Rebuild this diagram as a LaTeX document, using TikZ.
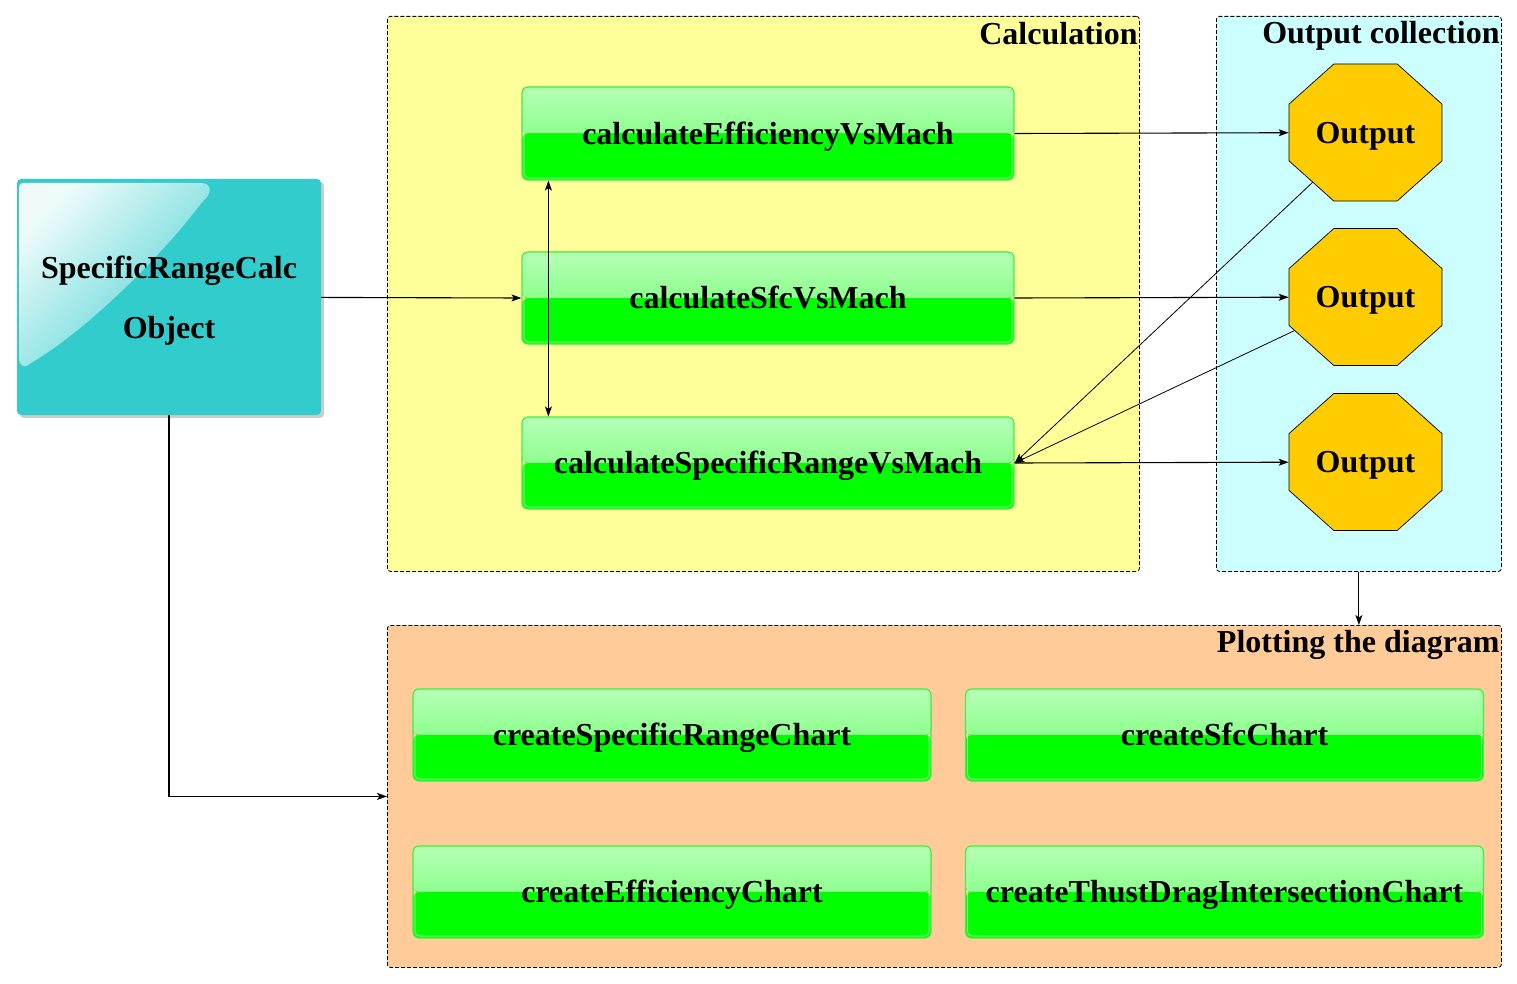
\documentclass[tikz,border=0pt]{standalone}
\usepackage{fontspec}
\setmainfont{Liberation Serif}
\usetikzlibrary{arrows.meta,shapes.geometric,shadows,calc}
\definecolor{calcbg}{HTML}{FFFF99}
\definecolor{outbg}{HTML}{CCFFFF}
\definecolor{plotbg}{HTML}{FFCC99}
\definecolor{tealbox}{HTML}{33CCCC}
\definecolor{octocol}{HTML}{FFCC00}
\definecolor{gtop}{HTML}{B6FFB6}
\definecolor{gmid}{HTML}{66FF66}
\definecolor{gbot}{HTML}{00FF00}
\definecolor{gedge}{HTML}{44EE44}
\definecolor{gin}{HTML}{A8FFA8}
\begin{document}
\begin{tikzpicture}[x=1pt,y=-1pt,
  >={Stealth[length=10pt,width=7pt,inset=2.5pt]},
  txt/.style={font=\fontsize{32}{38}\selectfont\bfseries},
  container/.style={draw, line width=0.8pt, dash pattern=on 4pt off 2pt, rounded corners=3pt, inner sep=0pt, anchor=north west},
  title/.style={txt, inner sep=0pt, anchor=base east},
  gbox/.style={txt, text height=21.2pt, text depth=0pt, inner sep=0pt, rounded corners=6pt,
    draw=gedge, line width=1.2pt, minimum height=93pt,
    path picture={
      \fill[top color=gtop, bottom color=gmid] (path picture bounding box.north west) rectangle (path picture bounding box.east);
      \fill[gbot] (path picture bounding box.west) rectangle (path picture bounding box.south east);
      \draw[gin, line width=0.8pt, rounded corners=4.5pt] ($(path picture bounding box.north west)+(2,2)$) rectangle ($(path picture bounding box.south east)+(-2,-2)$);
    }},
  calcbox/.style={gbox, minimum width=492pt},
  plotbox/.style={gbox, minimum width=518pt, minimum height=92pt},
  octo/.style={txt, text height=21.2pt, text depth=0pt, regular polygon, regular polygon sides=8, minimum size=148.3pt, inner sep=0pt,
    fill=octocol, draw=black, line width=0.7pt, xscale=1.117, transform shape},
  srcbox/.style={fill=tealbox, rounded corners=4pt, minimum width=304pt, minimum height=236pt, inner sep=0pt,
    align=center, font=\fontsize{32}{60}\selectfont\bfseries, text depth=0pt,
    drop shadow={shadow xshift=3pt, shadow yshift=-3pt, fill=black, opacity=0.2},
    path picture={
      \coordinate (glossorigin) at (path picture bounding box.north west);
      \shade[top color=tealbox!8!white, middle color=tealbox!68!white, bottom color=tealbox!88!white, shading angle=45]
        ($(glossorigin)+(2,4)$) -- ($(glossorigin)+(180,4)$)
        .. controls ($(glossorigin)+(194,4)$) and ($(glossorigin)+(195,13)$) .. ($(glossorigin)+(186,22)$)
        .. controls ($(glossorigin)+(140,82)$) and ($(glossorigin)+(70,150)$) .. ($(glossorigin)+(14,184)$)
        .. controls ($(glossorigin)+(7,189)$) and ($(glossorigin)+(2,186)$) .. ($(glossorigin)+(2,176)$) -- cycle;
    }},
  conn/.style={->, line width=1.1pt}
]
\useasboundingbox (0,0) rectangle (1517,984);
\fill[white] (0,0) rectangle (1517,984);

% containers
\node[container, fill=calcbg, minimum width=752pt, minimum height=555pt] (calc) at (387,16) {};
\node[container, fill=outbg, minimum width=285pt, minimum height=555pt] (outc) at (1216,16) {};
\node[container, fill=plotbg, minimum width=1114pt, minimum height=342pt] (plot) at (387,625) {};
\node[title] (tcalc) at ([xshift=-2pt,yshift=-29pt]calc.north east) {Calculation};
\node[title] (toutc) at ([xshift=-2pt,yshift=-28pt]outc.north east) {Output collection};
\node[title] (tplot) at ([xshift=-2pt,yshift=-27.5pt]plot.north east) {Plotting the diagram};

% source object
\node[srcbox] (src) at (169,297) {SpecificRangeCalc\\Object};

% calculation steps
\node[calcbox] (cEff) at (768,133.5) {calculateEfficiencyVsMach};
\node[calcbox, minimum height=92pt] (cSfc) at (768,298) {calculateSfcVsMach};
\node[calcbox, minimum height=92pt] (cSR) at (768,463) {calculateSpecificRangeVsMach};

% outputs
\node[octo] (o1) at (1365.5,132.5) {\scalebox{0.895}[1]{Output}};
\node[octo] (o2) at (1365.5,297) {\scalebox{0.895}[1]{Output}};
\node[octo] (o3) at (1365.5,462) {\scalebox{0.895}[1]{Output}};

% plotting
\node[plotbox] (pSR) at (672,735) {createSpecificRangeChart};
\node[plotbox] (pSfc) at (1224.5,735) {createSfcChart};
\node[plotbox] (pEff) at (672,892) {createEfficiencyChart};
\node[plotbox] (pTD) at (1224.5,892) {createThustDragIntersectionChart};

% connectors
\draw[conn] (src) -- (cSfc.west);
\draw[conn, <->] ([xshift=27pt]cEff.south west) -- ([xshift=27pt]cSR.north west);
\draw[conn] (cEff.east) -- (o1);
\draw[conn] (cSfc.east) -- (o2);
\draw[conn] (cSR.east) -- (o3);
\draw[conn, line width=0.8pt] (o1) -- (cSR.east);
\draw[conn, line width=0.8pt] (o2) -- (cSR.east);
\draw[conn] (outc.south) -- (outc.south |- plot.north);
\draw[conn] (src.south) |- (plot.west);
\end{tikzpicture}
\end{document}
